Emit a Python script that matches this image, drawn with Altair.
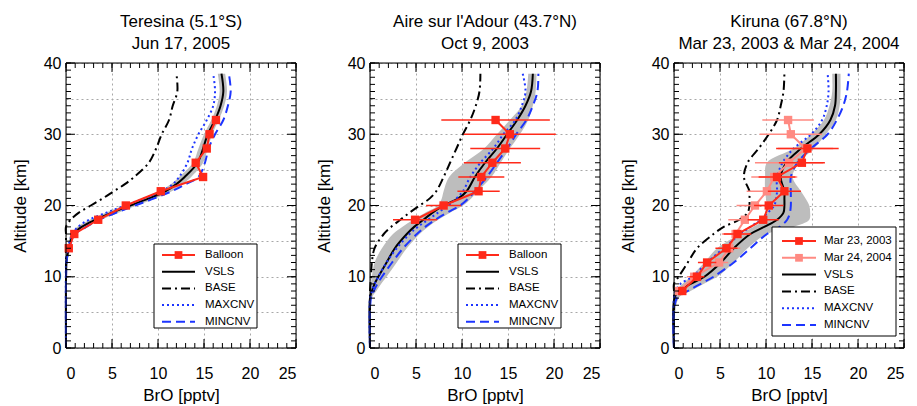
import altair as alt
import pandas as pd

# ---------------- axis ticks / labels ----------------
X_LABELS = [0, 5, 10, 15, 20, 25]
X_MINOR = list(range(0, 26))
Y_GRID = [0, 5, 10, 15, 20, 25, 30, 35, 40]
Y_MAJOR = [0, 10, 20, 30, 40]
Y_MINOR = list(range(0, 41))

# ---------------- Panel 1: Teresina ----------------
P1_ALT = [0, 12, 13, 14, 15, 16, 17, 18, 19, 20, 21, 22, 23, 24, 26, 28, 30, 32, 34, 36, 38.5]
P1_VSLS = [0, 0.05, 0.15, 0.3, 0.5, 0.8, 1.7, 3.2, 5.0, 7.0, 9.0, 10.8, 12.0, 12.9, 14.3, 14.9, 15.4, 16.2, 16.8, 17.1, 16.9]
P1_LO = [0, 0, 0.05, 0.15, 0.3, 0.5, 1.2, 2.6, 4.3, 6.3, 8.3, 10.1, 11.4, 12.3, 13.8, 14.4, 15.0, 15.8, 16.4, 16.7, 16.5]
P1_HI = [0, 0.1, 0.3, 0.5, 0.7, 1.1, 2.2, 3.8, 5.7, 7.7, 9.7, 11.5, 12.7, 13.6, 14.9, 15.4, 15.9, 16.6, 17.2, 17.5, 17.3]
P1_BASE = [0, 0, 0, 0, 0, 0, 0.0, 0.5, 1.4, 2.7, 4.0, 5.2, 6.4, 7.4, 9.0, 9.8, 10.4, 11.2, 11.6, 12.1, 12.0]
P1_MAXCNV = [0, 0, 0.05, 0.2, 0.4, 0.7, 1.3, 2.5, 4.4, 6.4, 8.5, 10.4, 11.6, 12.3, 13.2, 13.7, 14.4, 15.3, 16.0, 16.2, 16.0]
P1_MINCNV = [0, 0.05, 0.15, 0.3, 0.6, 1.0, 2.2, 3.6, 5.5, 7.5, 9.6, 11.5, 13.0, 14.4, 15.1, 15.5, 16.2, 17.1, 17.6, 17.9, 17.7]
P1_BAL_ALT = [14, 16, 18, 20, 22, 24, 26, 28, 30, 32]
P1_BAL = [0.3, 0.9, 3.5, 6.5, 10.3, 14.9, 14.1, 15.3, 15.6, 16.3]

# ---------------- Panel 2: Aire sur l'Adour ----------------
P2_ALT = [0, 7, 8, 9, 10, 12, 14, 16, 17, 18, 19, 20, 21, 22, 24, 26, 28, 30, 32, 34, 36, 38.5]
P2_VSLS = [0, 0, 0.2, 0.5, 0.9, 1.8, 2.7, 4.0, 4.8, 5.8, 6.8, 8.0, 9.6, 10.5, 11.4, 12.5, 13.8, 14.9, 16.0, 16.9, 17.5, 17.7]
P2_LO = [0, 0, 0, 0.1, 0.2, 0.5, 1.3, 2.5, 3.5, 4.7, 6.0, 7.4, 7.8, 8.0, 8.6, 10.3, 12.4, 13.8, 15.2, 16.5, 17.0, 17.2]
P2_HI = [0, 0.2, 0.7, 1.2, 1.8, 2.9, 4.0, 5.4, 6.3, 7.4, 8.7, 10.1, 11.0, 11.7, 13.2, 14.2, 15.2, 16.3, 17.2, 17.7, 18.0, 18.1]
P2_BASE = [0, 0, 0, 0.05, 0.1, 0.2, 0.5, 1.5, 2.3, 3.3, 4.3, 5.4, 6.5, 7.2, 8.0, 8.7, 9.4, 10.1, 10.9, 11.5, 11.9, 12.0]
P2_MAXCNV = [0, 0, 0.2, 0.5, 0.9, 1.8, 2.9, 4.3, 5.2, 6.3, 7.4, 8.5, 9.4, 10.1, 10.9, 12.0, 13.4, 14.5, 15.8, 16.5, 16.9, 16.6]
P2_MINCNV = [0, 0.1, 0.4, 0.8, 1.3, 2.4, 3.6, 5.1, 6.0, 7.1, 8.4, 9.8, 10.7, 11.4, 12.7, 13.8, 14.9, 15.9, 17.0, 17.7, 18.2, 18.3]
P2_BAL_ALT = [18, 20, 22, 24, 26, 28, 30, 32]
P2_BAL = [4.9, 8.0, 11.8, 12.1, 13.3, 14.7, 15.2, 13.65]
P2_BAL_ERR = [2.4, 1.9, 2.3, 2.5, 3.1, 3.8, 5.0, 5.9]

# ---------------- Panel 3: Kiruna ----------------
P3_ALT = [0, 7, 8, 9, 10, 12, 14, 16, 17, 18, 19, 20, 21, 22, 24, 26, 28, 30, 32, 34, 36, 38.5]
P3_VSLS = [0, 0.05, 0.5, 1.8, 3.3, 5.1, 6.5, 8.3, 9.8, 11.2, 11.9, 12.0, 12.0, 12.0, 11.6, 12.2, 13.8, 15.8, 17.0, 17.5, 17.6, 17.6]
P3_LO = [0, 0, 0.2, 0.9, 1.8, 3.3, 4.7, 7.2, 8.6, 9.8, 9.9, 10.1, 10.0, 9.9, 9.9, 10.1, 13.0, 14.9, 16.3, 16.9, 17.2, 17.2]
P3_HI = [0, 0.5, 1.8, 3.2, 4.7, 6.5, 8.0, 10.1, 13.0, 14.7, 14.8, 14.7, 14.3, 13.8, 12.9, 13.6, 15.2, 16.5, 17.6, 18.0, 18.1, 18.1]
P3_BASE = [0, 0, 0, 0, 0.5, 1.5, 2.5, 4.3, 5.4, 7.1, 8.0, 8.2, 8.2, 8.2, 7.6, 8.0, 9.2, 10.3, 11.2, 11.6, 11.9, 12.0]
P3_MAXCNV = [0, 0, 0.2, 0.7, 2.0, 3.6, 5.4, 7.2, 8.3, 9.4, 10.2, 10.9, 11.1, 11.2, 11.2, 11.8, 13.0, 14.9, 16.1, 16.6, 16.8, 16.7]
P3_MINCNV = [0, 0.3, 1.5, 2.9, 4.3, 6.5, 8.3, 10.1, 11.5, 12.3, 12.6, 12.7, 12.7, 12.7, 12.7, 13.4, 14.9, 16.7, 17.7, 18.4, 18.8, 19.0]
P3_2003_ALT = [8, 10, 12, 14, 16, 18, 20, 22, 24, 26, 28]
P3_2003 = [0.9, 2.5, 3.6, 5.7, 6.9, 9.7, 10.3, 12.0, 11.2, 13.9, 14.5]
P3_2003_ERR = [0.5, 0.8, 1.0, 1.2, 1.5, 1.7, 1.6, 1.8, 2.0, 2.5, 3.4]
P3_2004_ALT = [8, 10, 12, 14, 16, 18, 20, 22, 24, 26, 28, 30, 32]
P3_2004 = [0.54, 2.2, 4.9, 6.0, 6.7, 7.7, 8.8, 10.1, 10.9, 12.5, 14.3, 12.7, 12.4]
P3_2004_ERR = [0.5, 0.8, 1.0, 1.2, 1.5, 1.8, 2.0, 2.2, 2.5, 3.7, 3.0, 3.4, 2.8]

TITLES = [
    ["Teresina (5.1°S)", "Jun 17, 2005"],
    ["Aire sur l'Adour (43.7°N)", "Oct 9, 2003"],
    ["Kiruna (67.8°N)", "Mar 23, 2003 & Mar 24, 2004"],
]

# ---------------- styling ----------------
W, H = 230, 285
FONT = "Liberation Sans"
RED = "#ff2a1a"
PINK = "#ff8a82"
BLUE = "#1d35ff"
GREY = "#bdbdbd"
LW = 2

STYLES = {
    "VSLS": dict(color="black"),
    "BASE": dict(color="black", strokeDash=[9, 4, 2, 4]),
    "MAXCNV": dict(color=BLUE, strokeDash=[2, 3]),
    "MINCNV": dict(color=BLUE, strokeDash=[9, 5]),
}

xs = alt.Scale(domain=[0, 25], nice=False, zero=False)
ys = alt.Scale(domain=[0, 40], nice=False, zero=False)

x_axis = alt.Axis(values=X_LABELS, title="BrO [pptv]", ticks=False, domain=False,
                  grid=True, gridDash=[2, 3], gridColor="#a8a8a8", gridWidth=1,
                  labelFontSize=16, labelPadding=17, labelFont=FONT, labelColor="black",
                  titleFontSize=17, titleFont=FONT, titleFontWeight="normal",
                  titlePadding=6, titleColor="black", format="d")
y_axis = alt.Axis(values=Y_GRID, title="Altitude [km]", ticks=False, domain=False,
                  grid=True, gridDash=[2, 3], gridColor="#a8a8a8", gridWidth=1,
                  labelExpr="datum.value % 10 === 0 ? datum.label : ''",
                  labelFontSize=16, labelPadding=5, labelFont=FONT, labelColor="black",
                  titleFontSize=17, titleFont=FONT, titleFontWeight="normal",
                  titlePadding=14, titleColor="black", format="d")


def X(field):
    return alt.X(field, scale=xs, axis=x_axis)


def Y(field):
    return alt.Y(field, scale=ys, axis=y_axis)


def tick_layers():
    out = []
    for vals, L in ((X_MINOR, 5), (X_LABELS, 9)):
        d = pd.DataFrame({"v": vals})
        out.append(alt.Chart(d).mark_rule(color="black", strokeWidth=1).encode(
            x=X("v:Q"), y=alt.value(H), y2=alt.value(H - L)))
        out.append(alt.Chart(d).mark_rule(color="black", strokeWidth=1).encode(
            x=X("v:Q"), y=alt.value(0), y2=alt.value(L)))
    for vals, L in ((Y_MINOR, 5), (Y_MAJOR, 9)):
        d = pd.DataFrame({"v": vals})
        out.append(alt.Chart(d).mark_rule(color="black", strokeWidth=1).encode(
            y=Y("v:Q"), x=alt.value(0), x2=alt.value(L)))
        out.append(alt.Chart(d).mark_rule(color="black", strokeWidth=1).encode(
            y=Y("v:Q"), x=alt.value(W), x2=alt.value(W - L)))
    return out


def legend_layers(entries, x0, y0, x1, y1, first_y, dy, sym_x0, sym_x1, text_x):
    one = pd.DataFrame({"k": [0]})
    out = [alt.Chart(one).mark_rect(fill="white", stroke="black", strokeWidth=1).encode(
        x=alt.value(x0), x2=alt.value(x1), y=alt.value(y0), y2=alt.value(y1))]
    for i, (name, style, marker) in enumerate(entries):
        yy = first_y + i * dy
        d = pd.DataFrame({"label": [name]})
        out.append(alt.Chart(d).mark_rule(strokeWidth=LW, **style).encode(
            x=alt.value(sym_x0), x2=alt.value(sym_x1), y=alt.value(yy)))
        if marker:
            out.append(alt.Chart(d).mark_point(shape="square", filled=True, size=60, opacity=1,
                                               color=style["color"]).encode(
                x=alt.value((sym_x0 + sym_x1) / 2), y=alt.value(yy)))
        out.append(alt.Chart(d).mark_text(align="left", baseline="middle", font=FONT,
                                          fontSize=11.5, color="black").encode(
            x=alt.value(text_x), y=alt.value(yy), text="label:N"))
    return out


def balloon_layers(alts, vals, errs, color):
    d = pd.DataFrame({"alt": alts, "v": vals, "e": errs if errs else [0] * len(vals)})
    out = []
    if errs:
        out.append(alt.Chart(d).transform_calculate(
            lo="datum.v - datum.e", hi="datum.v + datum.e").mark_rule(
            color=color, strokeWidth=1.5).encode(
            x=X("lo:Q"), x2="hi:Q", y=Y("alt:Q")))
    out.append(alt.Chart(d).mark_line(color=color, strokeWidth=LW).encode(
        x=X("v:Q"), y=Y("alt:Q"), order="alt:Q"))
    out.append(alt.Chart(d).mark_point(shape="square", filled=True, size=70, opacity=1,
                                       color=color).encode(
        x=X("v:Q"), y=Y("alt:Q")))
    return out


def panel(title, alts, vsls, lo, hi, base, maxcnv, mincnv, balloons, legend):
    df = pd.DataFrame({"alt": alts, "VSLS": vsls, "lo": lo, "hi": hi,
                       "BASE": base, "MAXCNV": maxcnv, "MINCNV": mincnv})
    layers = [alt.Chart(df).mark_area(orient="horizontal", color=GREY, opacity=1,
                                      interpolate="catmull-rom").encode(
        y=Y("alt:Q"), x=X("lo:Q"), x2="hi:Q")]
    for name in ["VSLS", "BASE", "MAXCNV", "MINCNV"]:
        layers.append(alt.Chart(df).mark_line(strokeWidth=LW, interpolate="catmull-rom",
                                              **STYLES[name]).encode(
            x=X(f"{name}:Q"), y=Y("alt:Q"), order="alt:Q"))
    for b in balloons:
        layers += balloon_layers(*b)
    layers += tick_layers()
    layers.append(alt.Chart(pd.DataFrame({"k": [0]})).mark_rect(
        fillOpacity=0, stroke="black", strokeWidth=1).encode(
        x=alt.value(0), x2=alt.value(W), y=alt.value(0), y2=alt.value(H)))
    layers += legend
    return alt.layer(*layers).properties(
        width=W, height=H,
        title=alt.Title(text=title, fontSize=17, font=FONT, fontWeight="normal",
                        anchor="middle", lineHeight=22, offset=2, color="black"))


model_entries = [(n, STYLES[n], False) for n in ["VSLS", "BASE", "MAXCNV", "MINCNV"]]

leg1 = legend_layers([("Balloon", dict(color=RED), True)] + model_entries,
                     88, 181, 191, 265, 192, 16.7, 96, 129, 139)
leg2 = legend_layers([("Balloon", dict(color=RED), True)] + model_entries,
                     88, 181, 191, 265, 192, 16.7, 96, 129, 139)
leg3 = legend_layers([("Mar 23, 2003", dict(color=RED), True),
                      ("Mar 24, 2004", dict(color=PINK), True)] + model_entries,
                     98, 164, 222, 273, 178, 16.8, 108, 142, 150)

p1 = panel(TITLES[0], P1_ALT, P1_VSLS, P1_LO, P1_HI, P1_BASE, P1_MAXCNV, P1_MINCNV,
           [(P1_BAL_ALT, P1_BAL, None, RED)], leg1)
p2 = panel(TITLES[1], P2_ALT, P2_VSLS, P2_LO, P2_HI, P2_BASE, P2_MAXCNV, P2_MINCNV,
           [(P2_BAL_ALT, P2_BAL, P2_BAL_ERR, RED)], leg2)
p3 = panel(TITLES[2], P3_ALT, P3_VSLS, P3_LO, P3_HI, P3_BASE, P3_MAXCNV, P3_MINCNV,
           [(P3_2004_ALT, P3_2004, P3_2004_ERR, PINK), (P3_2003_ALT, P3_2003, P3_2003_ERR, RED)], leg3)

chart = alt.hconcat(p1, p2, p3, spacing=17).properties(
    padding={"left": 2, "top": 4, "right": 0, "bottom": 0}
).configure_view(stroke=None).configure(background="white")

chart.save("out.html", embed_options={"renderer": "svg", "actions": False})
